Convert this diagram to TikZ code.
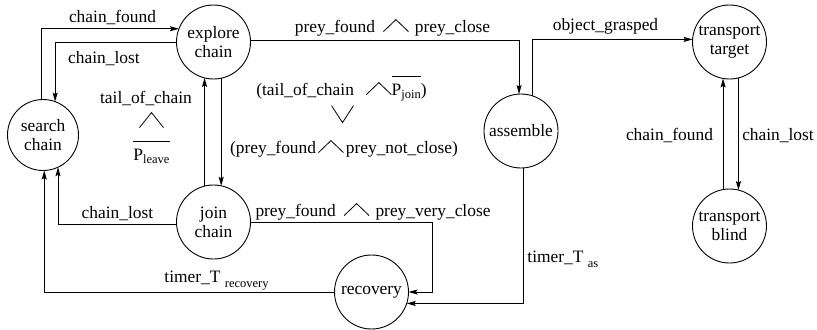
\documentclass[tikz,border=0pt]{standalone}
\usepackage{fontspec}
\setmainfont{Liberation Serif}
\usetikzlibrary{arrows.meta}

% thin logic connectives drawn as lines
\newsavebox\andbox
\newsavebox\bigandbox
\newsavebox\orbox
\newcommand\wedgepath[4]{%
  \begin{pgfpicture}%
    \pgfsetlinewidth{0.8bp}%
    \pgfpathmoveto{\pgfpoint{0bp}{#2}}%
    \pgfpathlineto{\pgfpoint{0.5*#1}{#3}}%
    \pgfpathlineto{\pgfpoint{#1}{#4}}%
    \pgfusepath{stroke}%
  \end{pgfpicture}}
\AtBeginDocument{%
  \sbox\andbox{\wedgepath{25bp}{0bp}{12bp}{0bp}}%
  \sbox\bigandbox{\wedgepath{24bp}{0bp}{15bp}{0bp}}%
  \sbox\orbox{\wedgepath{22bp}{17bp}{0bp}{17bp}}%
}
\newcommand\andsym{\usebox\andbox}
\newcommand\bigandsym{\usebox\bigandbox}
\newcommand\orsym{\usebox\orbox}
\newcommand\barred[1]{\setbox0\hbox{#1}\rlap{\rule[18bp]{\wd0}{0.8bp}}\box0}
\newcommand\lowsub[2]{\raisebox{-#1}{\fontsize{12.5bp}{14bp}\selectfont #2}}

\begin{document}
\begin{tikzpicture}[x=1bp,y=-1bp,
  line width=0.9bp,
  every node/.style={font=\fontsize{17.4bp}{19bp}\selectfont},
  state/.style={circle,draw,minimum size=74bp,inner sep=0pt,outer sep=0pt,align=center},
  lbl/.style={anchor=base,inner sep=0pt},
  arr/.style={-{Stealth[length=9bp,width=5bp,inset=1.5bp]}}]
\useasboundingbox (0,0) rectangle (817,329);

% states
\node[state,minimum size=71bp] (sc) at (43,135) {search\\chain};
\node[state] (ec) at (213.5,42) {explore\\chain};
\node[state] (jc) at (213.5,222) {join\\chain};
\node[state] (rc) at (371.5,292) {recovery};
\node[state] (as) at (521,131) {assemble};
\node[state] (tt) at (729.5,42) {transport\\target};
\node[state] (tb) at (729.5,226) {transport\\blind};

\coordinate (g1) at (432,292);

% transitions
\draw[arr] (sc.93.2) |- (ec.159.4);
\draw[arr] (ec.181.5) -| (sc.70.2);
\draw[arr] (ec.3.1) -| (as.93.1);
\draw[arr] (as.72.7) |- (tt.176.9);
\draw[arr] (ec.-78.3) -- (jc.78.3);
\draw[arr] (jc.104.9) -- (ec.-104.9);
\draw[arr] (jc.184.6) -| (sc.-65);
\draw[arr] (jc.-1.5) -| (g1) -- (rc.0);
\draw[arr] (rc.180) -| (sc.-88.4);
\draw[arr] (as.-86.9) |- (rc.-18.9);
\draw[arr] (tb.100.1) -- (tt.-100.1);
\draw[arr] (tt.-76.7) -- (tb.76.7);

% transition labels
\node[lbl] (l1) at (112.5,22) {chain\_found};
\node[lbl] (l2) at (104,63) {chain\_lost};
\node[lbl] (l3) at (392.5,32) {prey\_found\hspace{8bp}\andsym\hspace{6bp}prey\_close};
\node[lbl] (l4) at (605.5,30) {object\_grasped};
\node[lbl] (l5a) at (146,103) {tail\_of\_chain};
\node[lbl] (l5b) at (151.5,128) {\bigandsym};
\node[lbl] (l5c) at (151.5,160) {\barred{P\lowsub{3bp}{leave}}};
\node[lbl] (l6a) at (341.5,95) {(tail\_of\_chain\hspace{12bp}\andsym\barred{P\lowsub{3bp}{join}})};
\node[lbl] (l6b) at (342.5,123) {\orsym};
\node[lbl] (l6c) at (344,153) {(prey\_found\hspace{2bp}\andsym\hspace{2bp}prey\_not\_close)};
\node[lbl] (l7) at (117.5,218) {chain\_lost};
\node[lbl] (l8) at (373,216) {prey\_found\hspace{8bp}\andsym\hspace{6bp}prey\_very\_close};
\node[lbl] (l9) at (216.5,282) {timer\_T\ \lowsub{5bp}{recovery}};
\node[lbl,anchor=base west] (l10) at (527,262) {timer\_T\ \lowsub{5bp}{as}};
\node[lbl] (l11) at (669.5,140) {chain\_found};
\node[lbl] (l12) at (778,140) {chain\_lost};
\end{tikzpicture}
\end{document}
